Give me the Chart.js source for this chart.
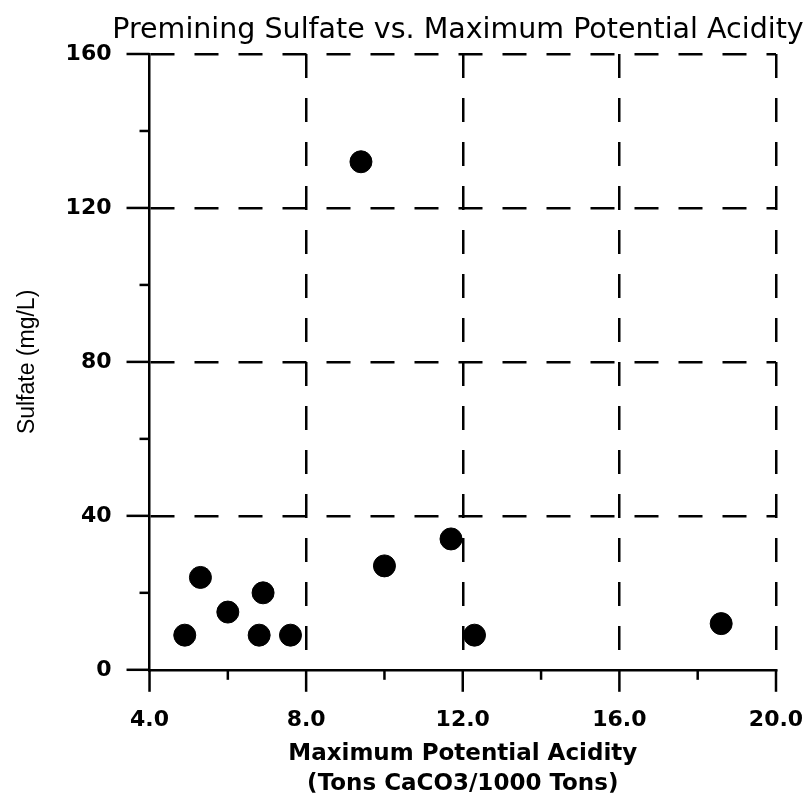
<!DOCTYPE html>
<html>
<head>
<meta charset="utf-8">
<script src="https://cdn.jsdelivr.net/npm/chart.js@4"></script>
<style>
  html, body { margin: 0; padding: 0; background: #fff; }
  #wrap { width: 811px; height: 806px; }
</style>
</head>
<body>
<div id="wrap"><canvas id="chart" width="811" height="806"></canvas></div>
<script>
// values
const acidity = [4.9, 5.3, 6.0, 6.8, 6.9, 7.6, 9.4, 10.0, 11.7, 12.3, 18.6];
const sulfate = [9, 24, 15, 9, 20, 9, 132, 27, 34, 9, 12];
const xTickLabels = ['4.0', '8.0', '12.0', '16.0', '20.0'];
const yTickLabels = ['0', '40', '80', '120', '160'];
const chartTitle = 'Premining Sulfate vs. Maximum Potential Acidity';

const points = acidity.map((x, i) => ({ x: x, y: sulfate[i] }));
const wide = '"DejaVu Sans", Verdana, sans-serif';
const plain = '"Liberation Sans", Arial, sans-serif';

// title sits a bit right of centre in the scan, so draw it by hand
const topTitle = {
    id: 'topTitle',
    afterDraw(chart) {
        const ctx = chart.ctx;
        ctx.save();
        ctx.fillStyle = '#000';
        ctx.font = '28.5px ' + wide;
        ctx.textAlign = 'center';
        ctx.textBaseline = 'alphabetic';
        ctx.fillText(chartTitle, 458, 38);
        ctx.restore();
    }
};

// the short outside tick marks (major + minor)
const tickMarks = {
    id: 'tickMarks',
    afterDraw(chart) {
        const ctx = chart.ctx;
        const xs = chart.scales.x, ys = chart.scales.y;
        const area = chart.chartArea;
        ctx.save();
        ctx.strokeStyle = '#000';
        ctx.lineWidth = 2.5;
        ys.ticks.forEach(t => {
            const y = ys.getPixelForValue(t.value);
            const len = t.value % 40 === 0 ? 23 : 10;
            ctx.beginPath();
            ctx.moveTo(area.left - len, y);
            ctx.lineTo(area.left, y);
            ctx.stroke();
        });
        xs.ticks.forEach(t => {
            const x = xs.getPixelForValue(t.value);
            const len = t.value % 4 === 0 ? 22 : 10;
            ctx.beginPath();
            ctx.moveTo(x, area.bottom);
            ctx.lineTo(x, area.bottom + len);
            ctx.stroke();
        });
        ctx.restore();
    }
};

new Chart(document.getElementById('chart'), {
    type: 'scatter',
    data: {
        datasets: [{
            data: points,
            backgroundColor: '#000',
            borderColor: '#000',
            pointRadius: 11,
            pointHoverRadius: 11
        }]
    },
    options: {
        responsive: false,
        animation: false,
        layout: { padding: { left: 14, right: 35, top: 54, bottom: 7 } },
        plugins: {
            legend: { display: false },
            tooltip: { enabled: false }
        },
        scales: {
            x: {
                type: 'linear',
                min: 4,
                max: 20,
                ticks: {
                    stepSize: 2,
                    color: '#000',
                    padding: 0,
                    maxRotation: 0,
                    font: { family: wide, size: 22, weight: 'bold' },
                    callback: v => {
                        const i = xTickLabels.indexOf(v.toFixed(1));
                        return i >= 0 ? xTickLabels[i] : '';
                    }
                },
                grid: {
                    drawTicks: true,
                    tickLength: 37,
                    tickColor: 'rgba(0,0,0,0)',
                    lineWidth: 2.5,
                    color: c => (c.tick && c.tick.value % 4 === 0 && c.tick.value > 4) ? '#000' : 'rgba(0,0,0,0)'
                },
                border: { display: true, color: '#000', width: 2.5, dash: [24, 20] },
                title: {
                    display: true,
                    text: ['Maximum Potential Acidity', '(Tons CaCO3/1000 Tons)'],
                    color: '#000',
                    font: { family: wide, size: 23, weight: 'bold', lineHeight: 1.3 },
                    padding: { top: 6, bottom: 0 }
                }
            },
            y: {
                type: 'linear',
                min: 0,
                max: 160,
                ticks: {
                    stepSize: 20,
                    color: '#000',
                    padding: 0,
                    font: { family: wide, size: 22, weight: 'bold' },
                    callback: v => {
                        const i = yTickLabels.indexOf(String(v));
                        return i >= 0 ? yTickLabels[i] : '';
                    }
                },
                grid: {
                    drawTicks: true,
                    tickLength: 38,
                    tickColor: 'rgba(0,0,0,0)',
                    lineWidth: 2.5,
                    color: c => (c.tick && c.tick.value % 40 === 0 && c.tick.value > 0) ? '#000' : 'rgba(0,0,0,0)'
                },
                border: { display: true, color: '#000', width: 2.5, dash: [24, 20] },
                title: {
                    display: true,
                    text: 'Sulfate (mg/L)',
                    color: '#000',
                    font: { family: plain, size: 23, weight: 'normal' },
                    padding: { top: 0, bottom: 24 }
                }
            }
        }
    },
    plugins: [tickMarks, topTitle]
});
</script>
</body>
</html>
